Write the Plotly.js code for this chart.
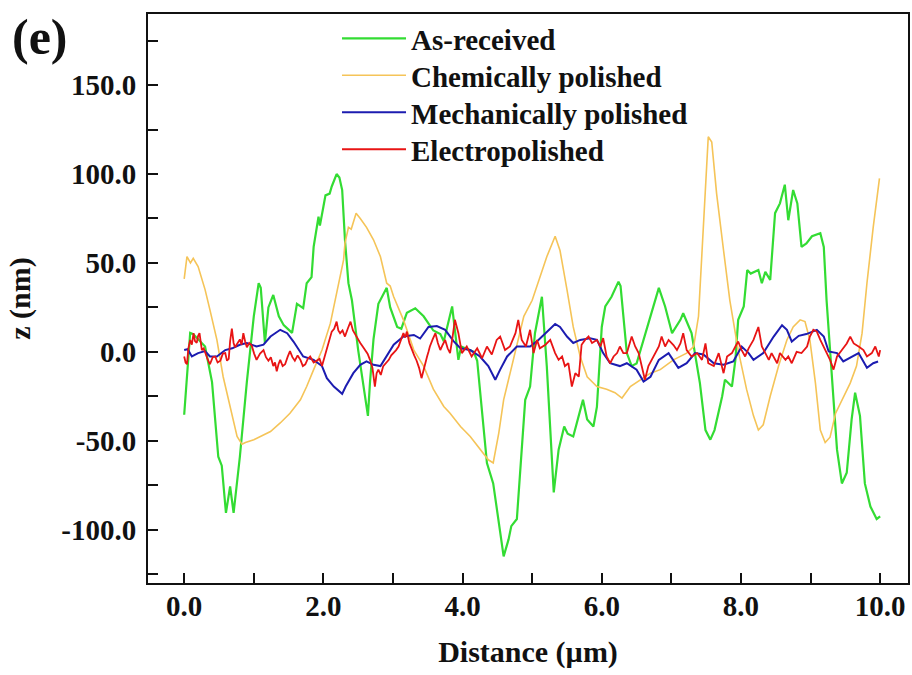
<!DOCTYPE html>
<html>
<head>
<meta charset="utf-8">
<script src="https://cdn.plot.ly/plotly-3.0.1.min.js"></script>
<style>
  html, body { margin: 0; padding: 0; background: #ffffff; }
  #chart { width: 912px; height: 675px; }
</style>
</head>
<body>
<div id="chart"></div>
<script>
// ---- Data ----
const seriesNames = ["As-received", "Chemically polished", "Mechanically polished", "Electropolished"];

const asReceivedX = [0.0,0.086,0.13,0.30,0.40,0.49,0.54,0.60,0.66,0.71,0.80,0.90,1.0,1.07,1.10,1.16,1.21,1.28,1.36,1.43,1.55,1.62,1.71,1.76,1.83,1.86,1.93,1.95,2.0,2.03,2.09,2.12,2.19,2.23,2.27,2.31,2.36,2.41,2.50,2.58,2.64,2.67,2.72,2.79,2.91,2.96,3.06,3.12,3.20,3.32,3.44,3.58,3.68,3.73,3.85,3.94,3.98,4.10,4.16,4.21,4.35,4.44,4.59,4.66,4.70,4.78,4.83,4.90,4.97,5.04,5.14,5.21,5.31,5.38,5.46,5.51,5.59,5.67,5.73,5.79,5.88,5.93,6.0,6.05,6.14,6.24,6.27,6.36,6.43,6.50,6.60,6.72,6.82,6.91,7.01,7.13,7.17,7.29,7.41,7.49,7.56,7.62,7.73,7.77,7.87,7.92,7.96,8.04,8.09,8.14,8.25,8.30,8.35,8.42,8.49,8.56,8.63,8.68,8.75,8.81,8.87,8.94,9.02,9.14,9.19,9.23,9.31,9.38,9.45,9.52,9.59,9.64,9.71,9.78,9.86,9.95,10.0];
const asReceivedZ = [-35.4,10.7,10,3,-17,-59,-64,-90.6,-75.7,-90.6,-59,-17,20,38.6,36,5,25,32,20,15,10.7,27,24.6,38.6,42,59,76,71,81.6,88,89,93,100,98,91,63,38.6,29,1,-21,-36,-17,7,27,36,25,14,13,22,24.5,20,12,10,6,25.5,-4.5,3,1,0,-5,-62.5,-74,-115,-105.6,-98,-94,-68,-27,-19.5,10.5,31,-8,-79,-55,-42,-46,-47.6,-36,-27,-38,-42,-31,14,25.5,31,39.5,37,-0.7,-8,-6.6,6.7,21.7,36,25.5,10.5,18,21.7,10.5,-17.6,-44,-49.4,-44,-25,-15.7,-19.5,-4.5,18,25.5,46,44,46,38.6,45,40.5,78,83.5,94,74,91,83.5,59,61,65,66.7,59,29,-17.6,-55,-74,-68,-38,-23,-36,-74,-87,-94,-92.5];

const chemX = [0.0,0.04,0.09,0.13,0.20,0.30,0.37,0.47,0.56,0.66,0.76,0.83,0.88,1.0,1.09,1.24,1.38,1.52,1.67,1.76,1.86,1.98,2.10,2.19,2.29,2.31,2.36,2.40,2.47,2.53,2.62,2.72,2.82,2.91,2.96,3.01,3.15,3.30,3.44,3.58,3.73,3.82,3.97,4.11,4.25,4.37,4.44,4.52,4.59,4.68,4.78,4.88,5.0,5.11,5.21,5.33,5.40,5.50,5.59,5.69,5.79,5.93,6.07,6.19,6.29,6.41,6.55,6.70,6.84,7.03,7.22,7.32,7.39,7.44,7.49,7.53,7.58,7.65,7.75,7.84,7.96,8.08,8.18,8.25,8.32,8.42,8.54,8.66,8.75,8.85,8.92,8.99,9.07,9.14,9.21,9.28,9.36,9.45,9.57,9.66,9.74,9.81,9.90,9.99];
const chemZ = [41,53.5,50,52.6,48,35,23.6,6.7,-14,-30.7,-47.6,-52,-51,-49.4,-47.6,-44.8,-40,-34.5,-27,-19.5,-10,1,16,33,51.7,61,70,69,78,75,70,63,53.5,38.6,37,31,18,1,-8,-21,-30.7,-34.5,-42,-47.6,-55,-60.7,-62.5,-45.7,-27,-12,3,20,29,42,53.5,65,57,35,14,-2.6,-14,-19.5,-21,-23,-26,-19.5,-15.7,-12,-10,-4.5,-0.7,3,20,57,94.8,121,118,89,57,29,1,-21,-36,-44,-41,-25,-8,6.7,14,18,17,6.7,-17.6,-44,-51,-48,-34.5,-27,-17.6,-8,10.5,38.6,70,97.6];

const mechX = [0.0,0.05,0.11,0.20,0.30,0.37,0.47,0.59,0.69,0.80,0.90,1.04,1.14,1.24,1.38,1.48,1.57,1.71,1.86,1.98,2.05,2.15,2.27,2.32,2.43,2.53,2.62,2.72,2.82,2.91,3.01,3.15,3.30,3.39,3.51,3.63,3.75,3.87,3.97,4.11,4.25,4.37,4.47,4.54,4.64,4.78,4.97,5.09,5.21,5.33,5.40,5.50,5.59,5.69,5.83,5.93,6.02,6.12,6.26,6.36,6.50,6.60,6.70,6.82,6.96,7.10,7.22,7.34,7.46,7.61,7.75,7.89,8.01,8.11,8.18,8.32,8.47,8.59,8.66,8.73,8.83,8.94,9.09,9.19,9.26,9.38,9.47,9.59,9.69,9.81,9.90,9.97];
const mechZ = [1,1.5,-2.6,-0.7,0.4,-2.6,-2.6,1,2,4,5,3,4,8.6,12.4,10.5,5.8,-2.6,-4.5,-8,-14.8,-19.5,-23.6,-19.5,-12,-7.3,-5.4,-7.3,-8,-2.6,4,8.6,9.5,7.5,14,14.5,12.4,6,2,1,-2.6,-8,-15.7,-10,-2.6,3,3,6.7,11.4,15.7,14,8.6,5,6.7,7.7,6.7,-0.7,-6.4,-8,-6.4,-10,-16.7,-14,-4.5,-0.7,-9,-6.4,-0.7,-1.5,-6.4,-7.3,-5.4,3,-0.7,-4.5,-0.7,8.6,15,12.4,5.8,9,10,12.4,8.6,0.2,-0.7,-5.4,-2.6,-0.7,-9,-6.4,-5.4];

const electroX = [0.0,0.02,0.04,0.06,0.086,0.11,0.134,0.155,0.18,0.20,0.22,0.24,0.254,0.28,0.30,0.335,0.37,0.41,0.445,0.48,0.52,0.555,0.59,0.615,0.64,0.66,0.685,0.71,0.73,0.765,0.80,0.825,0.85,0.875,0.90,0.935,0.97,1.005,1.04,1.09,1.14,1.175,1.21,1.245,1.28,1.305,1.33,1.355,1.38,1.415,1.45,1.485,1.52,1.555,1.59,1.63,1.67,1.705,1.74,1.775,1.81,1.86,1.91,1.945,1.98,2.015,2.05,2.085,2.12,2.155,2.19,2.215,2.24,2.275,2.31,2.35,2.39,2.425,2.46,2.495,2.53,2.565,2.60,2.635,2.67,2.705,2.74,2.765,2.79,2.825,2.86,2.90,2.94,2.975,3.01,3.045,3.08,3.115,3.15,3.175,3.20,3.235,3.27,3.305,3.34,3.375,3.41,3.45,3.49,3.51,3.53,3.57,3.61,3.645,3.68,3.715,3.75,3.785,3.82,3.855,3.89,3.94,3.99,4.06,4.13,4.21,4.28,4.35,4.42,4.49,4.54,4.61,4.68,4.76,4.80,4.85,4.91,4.97,5.02,5.07,5.11,5.19,5.26,5.33,5.38,5.43,5.47,5.52,5.57,5.62,5.67,5.71,5.76,5.81,5.86,5.93,5.98,6.02,6.07,6.12,6.17,6.22,6.26,6.31,6.36,6.43,6.48,6.53,6.58,6.62,6.67,6.74,6.82,6.86,6.91,6.96,7.03,7.08,7.13,7.17,7.22,7.29,7.37,7.44,7.49,7.53,7.61,7.68,7.75,7.80,7.87,7.92,7.96,8.01,8.06,8.11,8.18,8.25,8.30,8.35,8.40,8.44,8.52,8.56,8.64,8.68,8.73,8.80,8.87,8.95,8.99,9.04,9.09,9.14,9.19,9.23,9.28,9.33,9.38,9.45,9.52,9.57,9.62,9.69,9.76,9.81,9.88,9.93,9.98,10.0];
const electroZ = [-2.6,-6,-7,2,6.7,4,10.5,6,5,9,10.5,4,1,2,-0.7,-4,-7,-3,-2.6,-6,-5,-1,-0.7,-5,-4,6,13,5,2.6,5,7,4,10.5,6,2.6,5,3.6,-1,-4.5,-1,1,-3,-5,-3,-8,-6,-11,-7,-4.5,-8,-7,-3,0.4,-3,-5,-2,-4.5,-8,-7,-4,-2.6,-6,-5,-4,-8,-3,1,7,11.4,13,17,12,10.5,12,8.6,13,17,12,9.5,7,5,3,1,-1,-4.5,-9,-19.5,-12,-10,-13,-8,-6,-4.5,-2,-0.7,1,3,7,10.5,8,11.4,5,1,-2,-5,-9,-14.8,-8,-2.6,0,3,7,10.5,5,1,4,6.7,2,-0.7,8,18,10.5,-0.7,3,-2.6,2,-3.6,3,-1.5,6.7,8.6,1,3,10.5,18,6.7,3,12.4,-0.7,6.7,2,4,6.7,-0.7,-4.5,-2.6,-8,-6.4,-19.5,-12,-14,4,6.7,8.6,5,6.7,3,7.7,-2.6,-6.4,-2.6,-0.7,3,-0.7,-0.7,8.6,3,-0.7,-10,-15.7,-8,-2.6,3,8.6,3,6.7,3.8,1,4.7,10.5,1,-2.6,-0.7,-4.5,4.7,-6.4,-8,-0.7,-12,-2.6,-0.7,3,5.8,1,-2.6,2,6.7,14,3,-0.7,-4.5,-0.7,-6.4,-0.7,-4.5,-2.6,-6.4,0,-0.7,3,8.6,12.4,11.4,6.7,3,-0.7,-4.5,-10,-2.6,1,4.7,8.6,4.7,3,1,-2.6,-0.7,3,-2.6,1];

const xTickVals = [0,1,2,3,4,5,6,7,8,9,10];
const xTickText = ["0.0","","2.0","","4.0","","6.0","","8.0","","10.0"];
const yTickVals = [-125,-100,-75,-50,-25,0,25,50,75,100,125,150,175];
const yTickText = ["","-100.0","","-50.0","","0.0","","50.0","","100.0","","150.0",""];

// ---- Styles ----
const colors = ["#33dc33", "#f5c458", "#1c1cb0", "#e81414"];
const widths = [2.2, 1.6, 2.0, 1.8];
const legendIds = ["legend", "legend2", "legend3", "legend4"];
const legendY = [0.957, 0.892, 0.827, 0.762];
const FONT = "Liberation Serif, Times New Roman, serif";
const INK = "#111111";

const xs = [asReceivedX, chemX, mechX, electroX];
const zs = [asReceivedZ, chemZ, mechZ, electroZ];

const traces = seriesNames.map((name, i) => ({
  type: "scatter",
  mode: "lines",
  name: name,
  x: xs[i],
  y: zs[i],
  legend: legendIds[i],
  line: { color: colors[i], width: widths[i], shape: "linear" },
  hoverinfo: "skip"
}));

const axisCommon = {
  showline: true,
  linecolor: INK,
  linewidth: 2,
  mirror: true,
  ticks: "inside",
  ticklen: 10,
  tickwidth: 2,
  tickcolor: INK,
  showgrid: false,
  zeroline: false,
  tickmode: "array",
  tickfont: { family: FONT, size: 29, color: INK, weight: "bold" }
};

const layout = {
  width: 912,
  height: 675,
  margin: { l: 148, r: 4, t: 14, b: 92 },
  paper_bgcolor: "#ffffff",
  plot_bgcolor: "#ffffff",
  font: { family: FONT, size: 29, color: INK, weight: "bold" },
  showlegend: true,
  xaxis: Object.assign({}, axisCommon, {
    range: [-0.52, 10.4],
    tickvals: xTickVals,
    ticktext: xTickText,
    ticklabelstandoff: -4,
    title: { text: "Distance (\u00b5m)", font: { family: FONT, size: 30, color: INK, weight: "bold" }, standoff: 20 }
  }),
  yaxis: Object.assign({}, axisCommon, {
    range: [-130, 190],
    tickvals: yTickVals,
    ticktext: yTickText,
    ticklabelstandoff: 4,
    title: { text: "z (nm)", font: { family: FONT, size: 30, color: INK, weight: "bold" }, standoff: 22 }
  }),
  annotations: [{
    text: "(e)",
    xref: "paper", yref: "paper",
    x: -0.182, y: 0.96,
    xanchor: "left", yanchor: "middle",
    showarrow: false,
    font: { family: FONT, size: 50, color: INK, weight: "bold" }
  }]
};

legendIds.forEach((id, i) => {
  layout[id] = {
    x: 0.2487, y: legendY[i], xanchor: "left", yanchor: "middle",
    bgcolor: "rgba(0,0,0,0)",
    font: { family: FONT, size: 29, color: INK, weight: "bold" },
    itemwidth: 64
  };
});

Plotly.newPlot("chart", traces, layout, { staticPlot: true, displayModeBar: false });
</script>
</body>
</html>
